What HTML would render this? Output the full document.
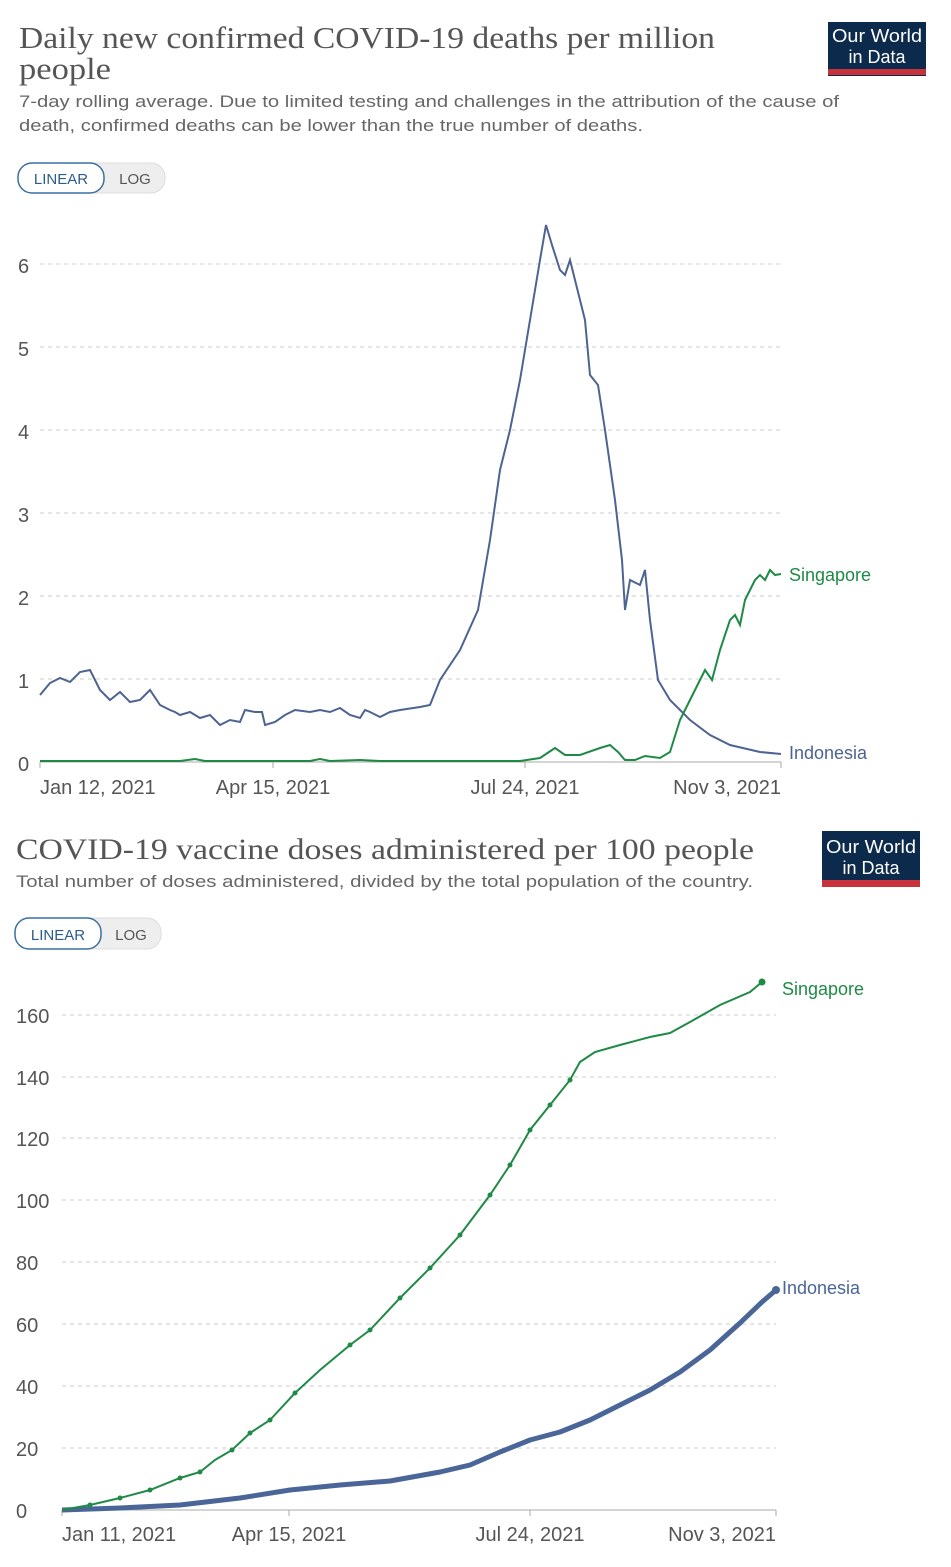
<!DOCTYPE html>
<html><head><meta charset="utf-8"><style>body{margin:0;background:#fff}svg{display:block}</style></head><body>
<svg width="951" height="1567" viewBox="0 0 951 1567" xmlns="http://www.w3.org/2000/svg" font-family="Liberation Sans, sans-serif">
<rect width="951" height="1567" fill="#fff"/>
<!-- TOP HEADER -->
<text x="19" y="48" font-family="Liberation Serif, serif" font-size="31" fill="#555" textLength="696" lengthAdjust="spacingAndGlyphs">Daily new confirmed COVID-19 deaths per million</text>
<text x="19" y="79" font-family="Liberation Serif, serif" font-size="31" fill="#555" textLength="92" lengthAdjust="spacingAndGlyphs">people</text>
<text x="19" y="107" font-size="17" fill="#666" textLength="820" lengthAdjust="spacingAndGlyphs">7-day rolling average. Due to limited testing and challenges in the attribution of the cause of</text>
<text x="19" y="131" font-size="17" fill="#666" textLength="624" lengthAdjust="spacingAndGlyphs">death, confirmed deaths can be lower than the true number of deaths.</text>
<rect x="828" y="22" width="98" height="54" fill="#0c2a4c"/><rect x="828" y="69" width="98" height="6" fill="#c8323a"/>
<text x="877" y="42" font-size="18" fill="#fff" text-anchor="middle" textLength="90" lengthAdjust="spacingAndGlyphs">Our World</text>
<text x="877" y="63" font-size="18" fill="#fff" text-anchor="middle">in Data</text>
<rect x="18" y="163" width="147" height="30" rx="14" fill="#eee" stroke="#ddd"/>
<rect x="18" y="163" width="86" height="30" rx="14" fill="#fff" stroke="#3a6fa0" stroke-width="1.5"/>
<text x="61" y="184" font-size="15" fill="#2b5c8a" text-anchor="middle">LINEAR</text>
<text x="135" y="184" font-size="15" fill="#555" text-anchor="middle">LOG</text>
<!-- TOP CHART grid -->
<g stroke="#ccc" stroke-dasharray="4,4" stroke-width="1">
<line x1="40" x2="781" y1="264" y2="264"/><line x1="40" x2="781" y1="347" y2="347"/><line x1="40" x2="781" y1="430" y2="430"/><line x1="40" x2="781" y1="513" y2="513"/><line x1="40" x2="781" y1="596" y2="596"/><line x1="40" x2="781" y1="679" y2="679"/>
</g>
<line x1="40" x2="781" y1="762" y2="762" stroke="#aaa"/>
<g stroke="#aaa"><line x1="40" x2="40" y1="762" y2="768"/><line x1="273" x2="273" y1="762" y2="768"/><line x1="525" x2="525" y1="762" y2="768"/><line x1="781" x2="781" y1="762" y2="768"/></g>
<g font-size="20" fill="#555"><text x="18" y="771">0</text><text x="18" y="688">1</text><text x="18" y="605">2</text><text x="18" y="522">3</text><text x="18" y="439">4</text><text x="18" y="356">5</text><text x="18" y="273">6</text></g>
<g font-size="20" fill="#555"><text x="40" y="794">Jan 12, 2021</text><text x="273" y="794" text-anchor="middle">Apr 15, 2021</text><text x="525" y="794" text-anchor="middle">Jul 24, 2021</text><text x="781" y="794" text-anchor="end">Nov 3, 2021</text></g>
<polyline fill="none" stroke="#4d6390" stroke-width="2" points="40,695 50,683 60,678 70,682 80,672 90,670 95,680 100,690 110,700 120,692 130,702 140,700 150,690 160,705 170,710 175,712 180,715 190,712 200,718 210,715 220,725 230,720 240,722 245,710 255,712 262,712 265,725 275,722 285,715 295,710 310,712 320,710 330,712 340,708 350,715 360,718 365,710 370,712 380,717 390,712 400,710 420,707 430,705 440,680 460,650 478,610 490,540 500,470 510,430 520,380 530,320 540,260 546,225 552,245 560,270 565,275 570,260 575,280 585,320 590,375 598,385 605,430 615,500 622,560 625,610 630,580 640,585 645,570 650,620 658,680 670,700 690,720 710,735 730,745 760,752 781,754"/>
<polyline fill="none" stroke="#1f8a45" stroke-width="2" points="40,761 180,761 195,759 205,761 310,761 320,759 330,761 360,760 380,761 440,761 520,761 540,758 555,748 565,755 580,755 600,748 610,745 618,752 625,760 635,760 645,756 660,758 670,752 680,720 690,700 705,670 712,680 720,650 730,620 735,615 740,625 745,600 755,580 760,575 765,580 770,570 775,575 781,574"/>
<text x="789" y="581" font-size="18" fill="#1f8a45">Singapore</text>
<text x="789" y="759" font-size="18" fill="#4d6390">Indonesia</text>
<!-- BOTTOM HEADER -->
<text x="16" y="859" font-family="Liberation Serif, serif" font-size="30" fill="#555" textLength="738" lengthAdjust="spacingAndGlyphs">COVID-19 vaccine doses administered per 100 people</text>
<text x="16" y="887" font-size="17" fill="#666" textLength="737" lengthAdjust="spacingAndGlyphs">Total number of doses administered, divided by the total population of the country.</text>
<rect x="822" y="831" width="98" height="56" fill="#0c2a4c"/><rect x="822" y="880" width="98" height="7" fill="#c8323a"/>
<text x="871" y="853" font-size="18" fill="#fff" text-anchor="middle" textLength="90" lengthAdjust="spacingAndGlyphs">Our World</text>
<text x="871" y="874" font-size="18" fill="#fff" text-anchor="middle">in Data</text>
<rect x="15" y="918" width="146" height="31" rx="14" fill="#eee" stroke="#ddd"/>
<rect x="15" y="918" width="86" height="31" rx="14" fill="#fff" stroke="#3a6fa0" stroke-width="1.5"/>
<text x="58" y="940" font-size="15" fill="#2b5c8a" text-anchor="middle">LINEAR</text>
<text x="131" y="940" font-size="15" fill="#555" text-anchor="middle">LOG</text>
<!-- BOTTOM CHART -->
<g stroke="#ccc" stroke-dasharray="4,4">
<line x1="62" x2="776" y1="1448" y2="1448"/><line x1="62" x2="776" y1="1386" y2="1386"/><line x1="62" x2="776" y1="1324" y2="1324"/><line x1="62" x2="776" y1="1262" y2="1262"/><line x1="62" x2="776" y1="1200" y2="1200"/><line x1="62" x2="776" y1="1138" y2="1138"/><line x1="62" x2="776" y1="1077" y2="1077"/><line x1="62" x2="776" y1="1015" y2="1015"/>
</g>
<line x1="62" x2="776" y1="1510" y2="1510" stroke="#aaa"/>
<g stroke="#aaa"><line x1="62" x2="62" y1="1510" y2="1516"/><line x1="289" x2="289" y1="1510" y2="1516"/><line x1="530" x2="530" y1="1510" y2="1516"/><line x1="776" x2="776" y1="1510" y2="1516"/></g>
<g font-size="20" fill="#555"><text x="16" y="1518">0</text><text x="16" y="1456">20</text><text x="16" y="1394">40</text><text x="16" y="1332">60</text><text x="16" y="1270">80</text><text x="16" y="1208">100</text><text x="16" y="1146">120</text><text x="16" y="1085">140</text><text x="16" y="1023">160</text></g>
<g font-size="20" fill="#555"><text x="62" y="1541">Jan 11, 2021</text><text x="289" y="1541" text-anchor="middle">Apr 15, 2021</text><text x="530" y="1541" text-anchor="middle">Jul 24, 2021</text><text x="776" y="1541" text-anchor="end">Nov 3, 2021</text></g>
<polyline fill="none" stroke="#4a6597" stroke-width="5" stroke-linejoin="round" points="62,1510 120,1508 180,1505 240,1498 290,1490 340,1485 390,1481 440,1472 470,1465 500,1452 530,1440 560,1432 590,1420 620,1405 650,1390 680,1372 710,1350 740,1323 762,1302 776,1290"/>
<circle cx="776" cy="1290" r="4" fill="#4a6597"/>
<polyline fill="none" stroke="#1f8a45" stroke-width="2" points="62,1510 90,1505 120,1498 150,1490 180,1478 200,1472 215,1460 232,1450 250,1433 270,1420 295,1393 320,1370 350,1345 370,1330 400,1298 430,1268 460,1235 490,1195 510,1165 530,1130 550,1105 570,1080 580,1062 595,1052 620,1045 650,1037 670,1033 690,1022 720,1005 750,992 762,982"/>
<g fill="#1f8a45"><circle cx="90" cy="1505" r="2.5"/><circle cx="120" cy="1498" r="2.5"/><circle cx="150" cy="1490" r="2.5"/><circle cx="180" cy="1478" r="2.5"/><circle cx="200" cy="1472" r="2.5"/><circle cx="232" cy="1450" r="2.5"/><circle cx="250" cy="1433" r="2.5"/><circle cx="270" cy="1420" r="2.5"/><circle cx="295" cy="1393" r="2.5"/><circle cx="350" cy="1345" r="2.5"/><circle cx="370" cy="1330" r="2.5"/><circle cx="400" cy="1298" r="2.5"/><circle cx="430" cy="1268" r="2.5"/><circle cx="460" cy="1235" r="2.5"/><circle cx="490" cy="1195" r="2.5"/><circle cx="510" cy="1165" r="2.5"/><circle cx="530" cy="1130" r="2.5"/><circle cx="550" cy="1105" r="2.5"/><circle cx="570" cy="1080" r="2.5"/><circle cx="762" cy="982" r="3.5"/></g>
<text x="782" y="995" font-size="18" fill="#1f8a45">Singapore</text>
<text x="782" y="1294" font-size="18" fill="#4a6597">Indonesia</text>
</svg>
</body></html>
